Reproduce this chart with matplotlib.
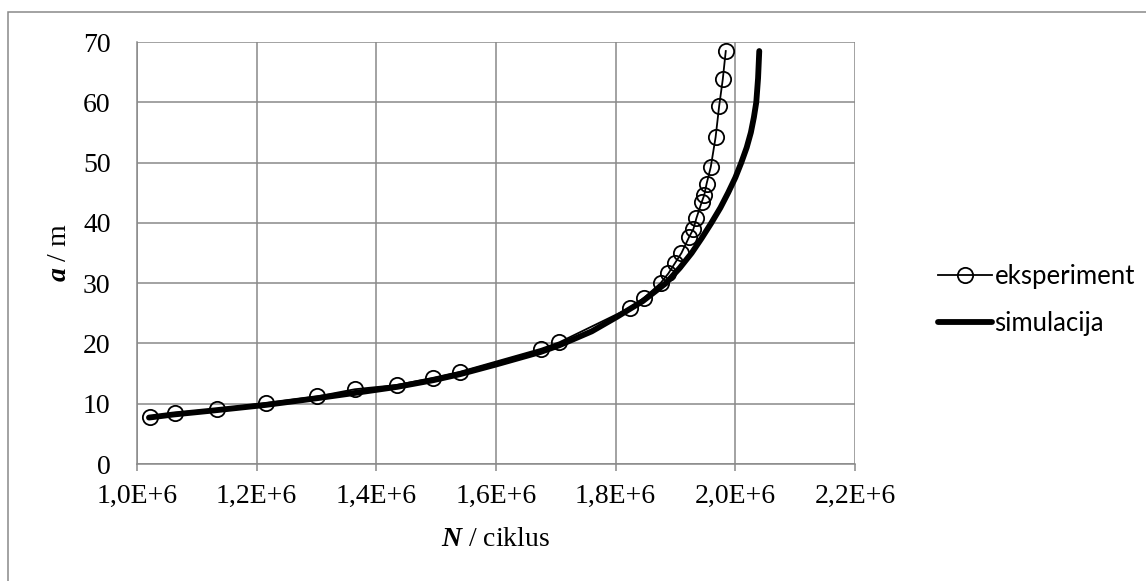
import numpy as np
import matplotlib
matplotlib.use("Agg")
import matplotlib.pyplot as plt
from matplotlib.patches import Rectangle
from matplotlib.ticker import FuncFormatter, MultipleLocator

plt.rcParams['font.family'] = ['Liberation Serif', 'DejaVu Serif']
plt.rcParams['mathtext.fontset'] = 'custom'
plt.rcParams['mathtext.rm'] = 'Liberation Serif'
plt.rcParams['mathtext.bfit'] = 'Liberation Serif:italic:bold'

# eksperiment (broj ciklusa, duljina pukotine)
N_exp = [1.0217e6, 1.0635e6, 1.133e6, 1.215e6, 1.301e6, 1.364e6, 1.434e6, 1.495e6,
         1.540e6, 1.675e6, 1.706e6, 1.824e6, 1.848e6, 1.875e6, 1.888e6, 1.899e6,
         1.910e6, 1.923e6, 1.930e6, 1.935e6, 1.944e6, 1.948e6, 1.952e6, 1.959e6,
         1.967e6, 1.973e6, 1.979e6, 1.984e6]
a_exp = [7.85, 8.5, 9.1, 10.1, 11.2, 12.4, 13.1, 14.3,
         15.3, 19.1, 20.2, 25.9, 27.6, 30.0, 31.6, 33.3,
         35.0, 37.7, 39.0, 40.8, 43.5, 44.6, 46.5, 49.3,
         54.2, 59.4, 63.8, 68.5]

# simulacija
N_sim = [1.020e6, 1.060e6, 1.130e6, 1.215e6, 1.300e6, 1.365e6, 1.435e6, 1.495e6,
         1.540e6, 1.600e6, 1.675e6, 1.706e6, 1.760e6, 1.802e6, 1.845e6, 1.884e6,
         1.907e6, 1.927e6, 1.944e6, 1.960e6, 1.975e6, 1.988e6, 2.000e6, 2.010e6,
         2.019e6, 2.026e6, 2.031e6, 2.035e6, 2.038e6, 2.040e6]
a_sim = [7.7, 8.2, 8.9, 9.8, 10.9, 11.8, 12.8, 13.9,
         14.9, 16.5, 18.6, 19.7, 22.0, 24.4, 27.0, 30.0,
         32.5, 35.0, 37.5, 40.0, 42.5, 45.0, 47.5, 50.0,
         52.5, 55.0, 57.5, 60.0, 64.0, 68.5]

fig = plt.figure(figsize=(11.46, 5.81), dpi=100)
ax = fig.add_axes([137/1146, 117/581, 718/1146, 422/581])

grid_c = '#898989'

ax.plot(N_exp, a_exp, color='black', lw=1.3, marker='o', ms=11, mfc='none',
        mec='black', mew=1.3, label='eksperiment', zorder=3)
ax.plot(N_sim, a_sim, color='black', lw=4.2, solid_capstyle='round',
        solid_joinstyle='round', label='simulacija', zorder=4)

ax.set_xlim(1.0e6, 2.2e6)
ax.set_ylim(0, 70)
ax.xaxis.set_major_locator(MultipleLocator(0.2e6))
ax.yaxis.set_major_locator(MultipleLocator(10))
ax.xaxis.set_major_formatter(FuncFormatter(
    lambda v, p: ('%.1f' % (v / 1e6)).replace('.', ',') + 'E+6'))

ax.grid(True, color=grid_c, lw=1.1)
ax.set_axisbelow(True)
for s in ['top', 'right']:
    ax.spines[s].set_visible(False)
for s in ['left', 'bottom']:
    ax.spines[s].set_color(grid_c)
    ax.spines[s].set_linewidth(1.1)

ax.tick_params(axis='x', length=5, width=1.1, color=grid_c, labelsize=20, pad=9)
ax.tick_params(axis='y', length=0, labelsize=20, pad=19)

ax.set_xlabel(r'$\mathbfit{N}$ / ciklus', fontsize=20, labelpad=13)
ax.set_ylabel(r'$\mathbfit{a}$ / m', fontsize=20, labelpad=8)

fig.legend(loc='center left', bbox_to_anchor=(938/1146, 1 - 300/581),
           frameon=False, prop={'family': 'Lato', 'size': 18.5},
           handlelength=2.1, handletextpad=0.1, labelspacing=0.85,
           borderaxespad=0, borderpad=0)

# okvir grafa
fig.patches.append(Rectangle((8/1146, -0.5), 1.5, 0.5 + 1 - 12/581,
                             transform=fig.transFigure, fill=False,
                             edgecolor=grid_c, lw=1.1))

plt.savefig('out.png', dpi=100)
